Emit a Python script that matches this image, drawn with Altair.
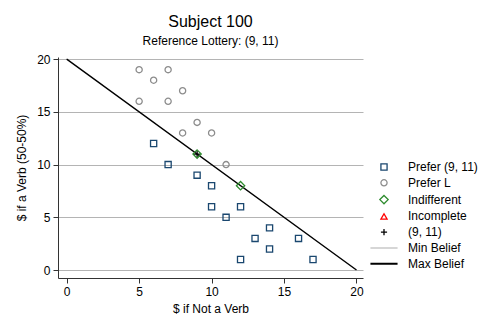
import altair as alt
import pandas as pd

# ---- data ----
prefer_ref_x = [6, 7, 9, 10, 10, 12, 11, 14, 13, 16, 14, 12, 17]
prefer_ref_y = [12, 10, 9, 8, 6, 6, 5, 4, 3, 3, 2, 1, 1]
prefer_l_x = [5, 7, 6, 8, 5, 7, 9, 8, 10, 11]
prefer_l_y = [19, 19, 18, 17, 16, 16, 14, 13, 13, 10]
indiff_x = [9, 12]
indiff_y = [11, 8]
ref_x = [9]
ref_y = [11]
belief_x = [0, 20]
belief_y = [20, 0]

series_names = ["Prefer (9, 11)", "Prefer L", "Indifferent", "Incomplete",
                "(9, 11)", "Min Belief", "Max Belief"]
series_colors = ["#1a476f", "#8c8c8c", "#2e8b2e", "#ff0000", "#000000", "#c0c0c0", "#000000"]
series_shapes = ["square", "circle", "M0,-1.35L1.35,0L0,1.35L-1.35,0Z", "triangle-up",
                 "M-1,0H1M0,-1V1", "M-4.4,0H4.4", "M-4.4,-0.12H4.4M-4.4,0.12H4.4"]

rows = []
for name, xs, ys in [("Prefer (9, 11)", prefer_ref_x, prefer_ref_y),
                     ("Prefer L", prefer_l_x, prefer_l_y),
                     ("Indifferent", indiff_x, indiff_y),
                     ("(9, 11)", ref_x, ref_y)]:
    for a, b in zip(xs, ys):
        rows.append({"x": a, "y": b, "series": name})
points = pd.DataFrame(rows)
lines = pd.DataFrame({"x": belief_x, "y": belief_y})

xscale = alt.Scale(domain=[-0.6, 20.45], nice=False, zero=False)
yscale = alt.Scale(domain=[-0.75, 20.2], nice=False, zero=False)

min_line = alt.Chart(lines).mark_line(color="#c0c0c0", strokeWidth=1).encode(
    x=alt.X("x:Q", scale=xscale),
    y=alt.Y("y:Q", scale=yscale),
)
max_line = alt.Chart(lines).mark_line(color="#000000", strokeWidth=1.3).encode(
    x=alt.X("x:Q", scale=xscale,
            axis=alt.Axis(title="$ if Not a Verb", values=[0, 5, 10, 15, 20],
                          grid=False, tickSize=5, labelPadding=3, titlePadding=6)),
    y=alt.Y("y:Q", scale=yscale,
            axis=alt.Axis(title="$ if a Verb (50-50%)", values=[0, 5, 10, 15, 20],
                          grid=True, tickSize=5, labelPadding=3, titlePadding=8)),
)

pts = alt.Chart(points).mark_point(filled=False, size=38, strokeWidth=1.3, opacity=1).encode(
    x=alt.X("x:Q", scale=xscale),
    y=alt.Y("y:Q", scale=yscale),
    color=alt.Color("series:N",
                    scale=alt.Scale(domain=series_names, range=series_colors),
                    legend=alt.Legend(title=None, orient="none", legendX=320, legendY=104,
                                      labelFontSize=12, labelOffset=18, rowPadding=3.8,
                                      symbolStrokeWidth=1.3, symbolSize=38)),
    shape=alt.Shape("series:N",
                    scale=alt.Scale(domain=series_names, range=series_shapes),
                    legend=None),
    order=alt.Order("series:N"),
)

chart = alt.layer(min_line, max_line, pts).properties(
    width=305, height=221,
    autosize=alt.AutoSizeParams(type="none"),
    padding={"left": 50, "top": 49, "right": 127, "bottom": 46},
    title=alt.Title("Subject 100", subtitle="Reference Lottery: (9, 11)",
                    fontSize=16, fontWeight="normal", subtitleFontSize=12,
                    subtitleColor="#000000", color="#000000", anchor="middle",
                    offset=6, subtitlePadding=6, font="Liberation Sans",
                    subtitleFont="Liberation Sans"),
).configure_view(stroke=None).configure_axis(
    labelFont="Liberation Sans", titleFont="Liberation Sans",
    labelFontSize=12, titleFontSize=12, titleFontWeight="normal",
    labelColor="#000000", titleColor="#000000",
    domainColor="#333333", tickColor="#333333", gridColor="#b4b4b4",
).configure_legend(labelFont="Liberation Sans", labelColor="#000000")

chart.save("out.html", embed_options={"renderer": "svg", "actions": False})
